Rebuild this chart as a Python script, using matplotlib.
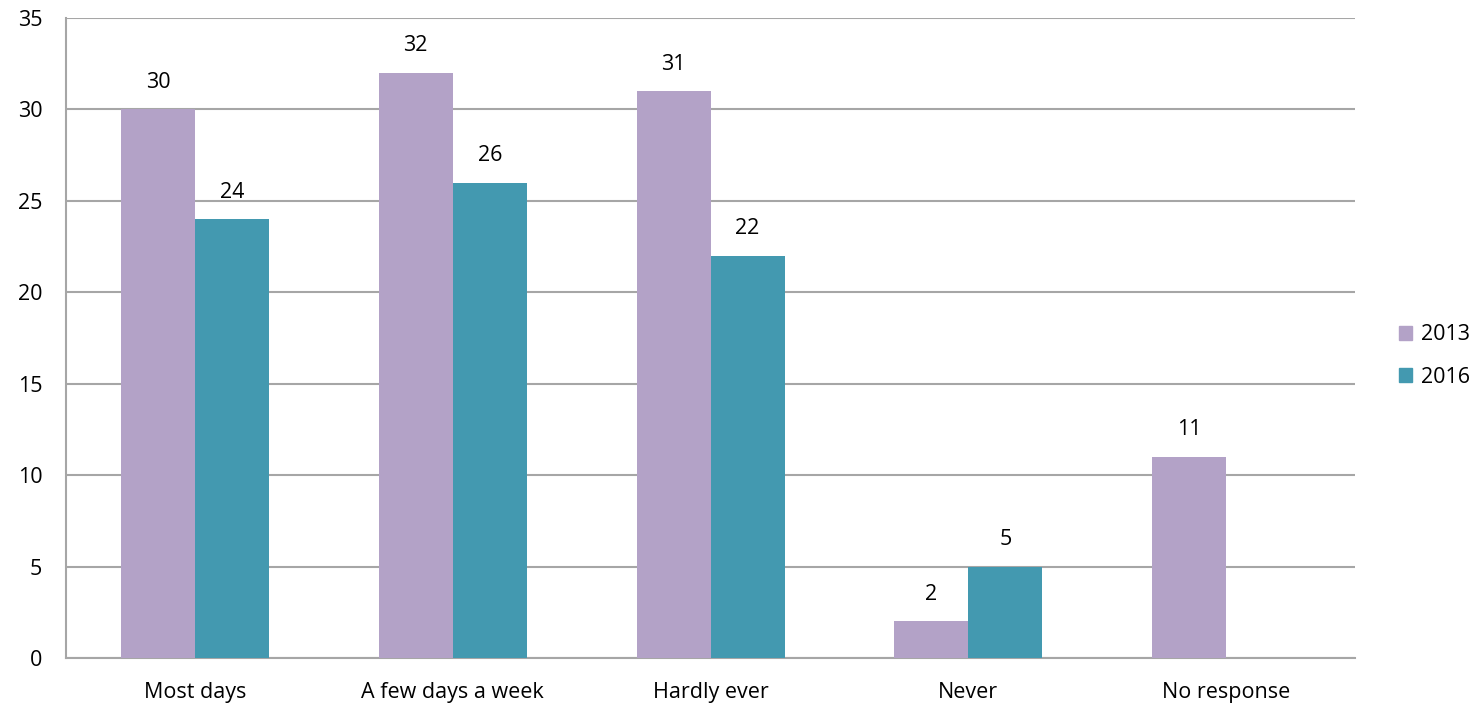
import matplotlib.pyplot as plt
import numpy as np

plt.rcParams['font.family'] = ['Open Sans', 'DejaVu Sans']

categories = ['Most days', 'A few days a week', 'Hardly ever', 'Never', 'No response']
vals_2013 = [30, 32, 31, 2, 11]
vals_2016 = [24, 26, 22, 5, None]

PURPLE = '#B3A2C7'
TEAL = '#4399B0'
GRID = '#A6A6A6'
FS = 15.5

fig = plt.figure(figsize=(14.79, 7.08), dpi=100)
ax = fig.add_axes([0.0446, 0.0706, 0.8716, 0.904])

x = np.arange(len(categories))
w = 0.287

for xi, v in zip(x, vals_2013):
    ax.bar(xi - w / 2, v, w, color=PURPLE, zorder=3)
    ax.text(xi - w / 2, v + 0.9, str(v), ha='center', va='bottom', fontsize=FS)
for xi, v in zip(x, vals_2016):
    if v is None:
        continue
    ax.bar(xi + w / 2, v, w, color=TEAL, zorder=3)
    ax.text(xi + w / 2, v + 0.9, str(v), ha='center', va='bottom', fontsize=FS)

ax.set_xlim(-0.5, len(categories) - 0.5)
ax.set_ylim(0, 35)
ax.set_yticks(range(0, 36, 5))
ax.set_xticks(x)
ax.set_xticklabels(categories, fontsize=FS)
ax.tick_params(axis='y', labelsize=FS, length=0, pad=17)
ax.tick_params(axis='x', length=0, pad=17)

ax.yaxis.grid(True, color=GRID, linewidth=1.5, zorder=0)
ax.set_axisbelow(True)
for side in ['top', 'right']:
    ax.spines[side].set_visible(False)
for side in ['left', 'bottom']:
    ax.spines[side].set_color(GRID)
    ax.spines[side].set_linewidth(1.5)

handles = [plt.Rectangle((0, 0), 1, 1, color=PURPLE),
           plt.Rectangle((0, 0), 1, 1, color=TEAL)]
fig.legend(handles, ['2013', '2016'], loc='center left',
           bbox_to_anchor=(0.933, 0.497), frameon=False, fontsize=FS,
           handlelength=0.6, handleheight=0.6, handletextpad=0.4,
           labelspacing=1.0)

fig.savefig('out.png', dpi=100)
